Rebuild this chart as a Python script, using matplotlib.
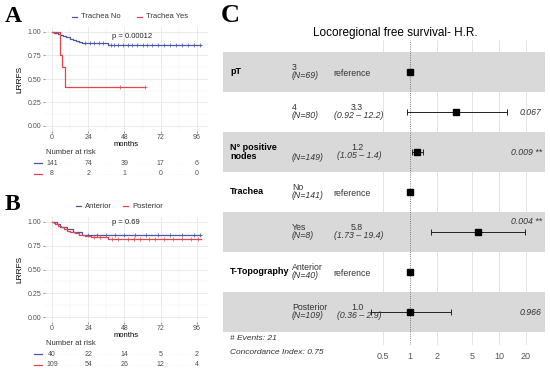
import numpy as np
import matplotlib.pyplot as plt
from matplotlib.transforms import blended_transform_factory

plt.rcParams['font.family'] = ['Liberation Sans', 'DejaVu Sans']

W, H = 550, 380
BLUE = '#4b57a5'
RED = '#e2454c'
GRAY_TXT = '#4d4d4d'

# ---- panel A: LRRFS by tracheal infiltration
a_labels = ['Trachea No', 'Trachea Yes']
a_no_t = [0, 1.5, 3, 4, 5.5, 7, 9, 10, 12, 14, 16, 18, 20, 37, 99]
a_no_s = [1.0, 0.993, 0.986, 0.979, 0.965, 0.958, 0.95, 0.943, 0.929, 0.915,
          0.905, 0.895, 0.882, 0.857, 0.857]
a_no_cens = [22, 25, 28, 31, 34, 39, 41, 44, 47, 50, 53, 56, 60, 63, 66, 70,
             74, 78, 82, 86, 90, 94, 98]
a_yes_t = [0, 5.5, 6.8, 8.6, 61.6]
a_yes_s = [1.0, 0.75, 0.625, 0.417, 0.417]
a_yes_cens = [45, 61.6]
a_pval = 'p = 0.00012'
a_risk_no = [141, 74, 39, 17, 6]
a_risk_yes = [8, 2, 1, 0, 0]

# ---- panel B: LRRFS by tumour topography
b_labels = ['Anterior', 'Posterior']
b_ant_t = [0, 3, 5, 10, 14, 20, 99]
b_ant_s = [1.0, 0.975, 0.95, 0.925, 0.898, 0.865, 0.865]
b_ant_cens = [24, 30, 36, 42, 48, 55, 62, 70, 78, 86, 94, 98]
b_post_t = [0, 1, 2, 4, 6, 8, 10, 12, 15, 18, 22, 26, 37, 99]
b_post_s = [1.0, 0.99, 0.98, 0.963, 0.944, 0.926, 0.907, 0.898, 0.88, 0.862,
            0.852, 0.843, 0.82, 0.82]
b_post_cens = [28, 32, 40, 44, 50, 54, 58, 64, 68, 74, 80, 86, 92, 97]
b_pval = 'p = 0.69'
b_risk_ant = [40, 22, 14, 5, 2]
b_risk_post = [109, 54, 26, 12, 4]

risk_times = [0, 24, 48, 72, 96]

# ---- panel C: Cox model hazard ratios
fp_vars = ['pT', '', 'N° positive\nnodes', 'Trachea', '', 'T-Topography', '']
fp_levels = ['3', '4', '', 'No', 'Yes', 'Anterior', 'Posterior']
fp_n = ['(N=69)', '(N=80)', '(N=149)', '(N=141)', '(N=8)', '(N=40)', '(N=109)']
fp_hr = [1.0, 3.3, 1.2, 1.0, 5.8, 1.0, 1.0]
fp_lo = [np.nan, 0.92, 1.05, np.nan, 1.73, np.nan, 0.36]
fp_hi = [np.nan, 12.2, 1.4, np.nan, 19.4, np.nan, 2.9]
fp_p = ['', '0.067', '0.009 **', '', '0.004 **', '', '0.966']
fp_ticks = [0.5, 1, 2, 5, 10, 20]


fig = plt.figure(figsize=(W / 100, H / 100), dpi=100)


def px_axes(l, t, r, b, **kw):
    return fig.add_axes([l / W, 1 - b / H, (r - l) / W, (b - t) / H], **kw)


# overlay in pixel coordinates for free text
ov = px_axes(0, 0, W, H, zorder=10)
ov.set_xlim(0, W)
ov.set_ylim(H, 0)
ov.axis('off')


def step_val(t, s, x):
    i = np.searchsorted(t, x, side='right') - 1
    return np.asarray(s)[i]


def km_panel(top, bottom, letter, letter_y, curves, labels, pval, risks, leg_x):
    ax = px_axes(44.5, top, 207.5, bottom)
    ax.set_xlim(-5, 103)
    ax.set_ylim(-0.05, 1.05)
    for (t, s, cens), c in zip(curves, [BLUE, RED]):
        ax.step(t, s, where='post', color=c, lw=0.9)
        ax.plot(cens, step_val(t, s, cens), '+', color=c, ms=2.5, mew=0.5)
    ax.set_xticks(risk_times)
    ax.set_xticks([12, 36, 60, 84], minor=True)
    ax.set_yticks([0, 0.25, 0.5, 0.75, 1.0])
    ax.set_yticklabels(['0.00', '0.25', '0.50', '0.75', '1.00'])
    ax.set_yticks([0.125, 0.375, 0.625, 0.875], minor=True)
    ax.grid(which='major', color='#e6e6e6', lw=0.6)
    ax.grid(which='minor', color='#f0f0f0', lw=0.35)
    ax.set_axisbelow(True)
    for sp in ax.spines.values():
        sp.set_visible(False)
    ax.tick_params(which='major', length=1.5, color='#999999', labelsize=5,
                   labelcolor=GRAY_TXT, pad=1)
    ax.tick_params(which='minor', length=0)
    ax.set_ylabel('LRRFS', fontsize=6, labelpad=3)
    ax.text(40, 0.955 if letter == 'A' else 0.99, pval, fontsize=5.5,
            ha='left', va='center', color='#222222')

    # panel letter and legend
    ov.text(5, letter_y, letter, fontsize=17, fontweight='bold',
            family='Liberation Serif', va='center', ha='left')
    ly = letter_y + 1
    for x0, lab, c in zip(leg_x, labels, [BLUE, RED]):
        ov.plot([x0, x0 + 5], [ly, ly], color=c, lw=0.9)
        ov.text(x0 + 9, ly, lab, fontsize=5.5, va='center', ha='left',
                color='#333333')

    # x label and risk table
    base = bottom + 13.5
    ov.text(126, base, 'months', fontsize=5.5, ha='center', va='center')
    ov.text(46, base + 8, 'Number at risk', fontsize=5.5, ha='left',
            va='center', color='#333333')
    tr = blended_transform_factory(ax.transData, ov.transData)
    for k, (row, c) in enumerate(zip(risks, [BLUE, RED])):
        y = base + 19 + 10.5 * k
        ov.plot([34, 42], [y, y], color=c, lw=0.9)
        ov.plot([-2, 100], [y, y], color='#eeeeee', lw=0.4, ls=':',
                transform=tr, zorder=0)
        for t, n in zip(risk_times, row):
            ov.text(t, y, str(n), transform=tr, fontsize=5, ha='center',
                    va='center', color=GRAY_TXT)
    return ax


km_panel(27.3, 130.7, 'A', 16,
         [(a_no_t, a_no_s, a_no_cens), (a_yes_t, a_yes_s, a_yes_cens)],
         a_labels, a_pval, [a_risk_no, a_risk_yes], [72, 137])
km_panel(217.25, 321.75, 'B', 205,
         [(b_ant_t, b_ant_s, b_ant_cens), (b_post_t, b_post_s, b_post_cens)],
         b_labels, b_pval, [b_risk_ant, b_risk_post], [76, 123])

# ---- panel C forest plot
ax = px_axes(223, 40, 545, 345)
ax.set_xscale('log')
ax.set_xlim(10 ** ((223 - 410) / 89), 10 ** ((545 - 410) / 89))
ax.set_ylim(6.825, -0.8)
for sp in ax.spines.values():
    sp.set_visible(False)
ax.set_xticks(fp_ticks)
ax.set_xticklabels([f'{v:g}' for v in fp_ticks])
ax.minorticks_off()
ax.set_yticks([])
ax.tick_params(axis='x', length=0, labelsize=6.5, labelcolor='#555555', pad=5)
for v in fp_ticks:
    if v != 1:
        ax.axvline(v, color='#e4e4e4', lw=0.7, zorder=0)
for i in range(0, 7, 2):
    ax.axhspan(i - 0.5, i + 0.5, color='#d9d9d9', lw=0, zorder=1)
ax.axvline(1, color='#555555', lw=0.6, ls=':', zorder=2)

rows = np.arange(len(fp_hr))
hr = np.array(fp_hr)
lo = np.array(fp_lo)
hi = np.array(fp_hi)
has_ci = ~np.isnan(lo)
ax.errorbar(hr[has_ci], rows[has_ci],
            xerr=[hr[has_ci] - lo[has_ci], hi[has_ci] - hr[has_ci]],
            fmt='none', ecolor='#222222', elinewidth=0.7, capsize=2,
            capthick=0.7, zorder=3)
ax.plot(hr, rows, 's', color='black', ms=5, zorder=4)

tr = blended_transform_factory(ov.transData, ax.transData)
for i in rows:
    if fp_vars[i]:
        ax.text(230, i, fp_vars[i], transform=tr, fontsize=6.5,
                fontweight='bold', ha='left', va='center', linespacing=1.0,
                zorder=5)
    if fp_levels[i]:
        ax.text(292, i - 0.11, fp_levels[i], transform=tr, fontsize=6.3,
                ha='left', va='center', color='#333333', zorder=5)
    ax.text(292, i + (0.1 if fp_levels[i] else 0.14), fp_n[i], transform=tr,
            fontsize=6.3, style='italic', ha='left', va='center',
            color='#333333', zorder=5)
    if has_ci[i]:
        ax.text(357, i - 0.11, f'{hr[i]:.1f}', transform=tr, fontsize=6.3,
                ha='center', va='center', color='#333333', zorder=5)
        ax.text(359, i + 0.1, f'({lo[i]:g} – {hi[i]:g})', transform=tr,
                fontsize=6.3, style='italic', ha='center', va='center',
                color='#333333', zorder=5)
    else:
        ax.text(333, i + 0.03, 'reference', transform=tr, fontsize=6.3,
                ha='left', va='center', color='#333333', zorder=5)
    if fp_p[i]:
        dy = -0.25 if i == 4 else 0.02
        ax.text(542, i + dy, fp_p[i], transform=tr, fontsize=6.3,
                style='italic', ha='right', va='center', color='#333333',
                zorder=5)

ov.text(230, 339, '# Events: 21', fontsize=6, style='italic', ha='left',
        va='center', color='#333333')
ov.text(230, 353, 'Concordance Index: 0.75', fontsize=6, style='italic',
        ha='left', va='center', color='#333333')
ov.text(395, 33, 'Locoregional free survival- H.R.', fontsize=8.5,
        ha='center', va='center')
ov.text(221, 16, 'C', fontsize=19, fontweight='bold',
        family='Liberation Serif', ha='left', va='center')

fig.savefig('out.png', dpi=100)
